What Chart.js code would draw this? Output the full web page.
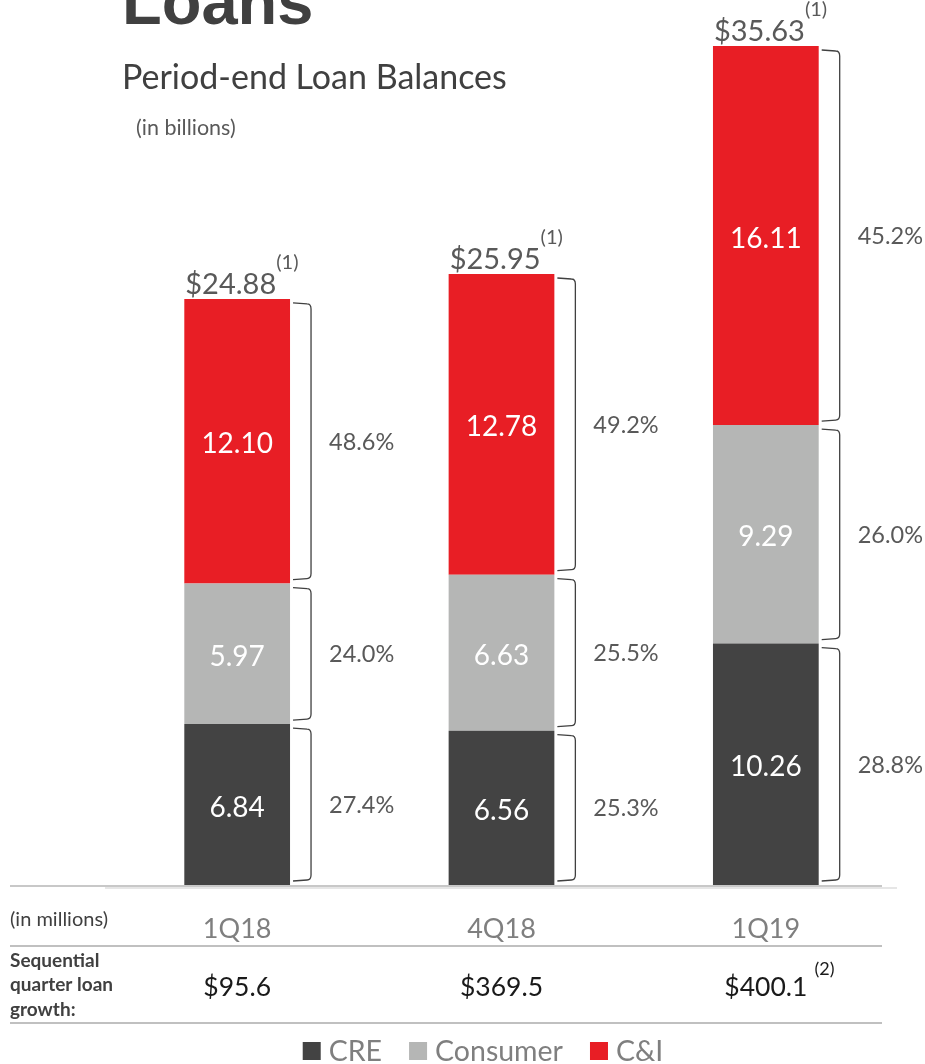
<!DOCTYPE html>
<html>
<head>
<meta charset="utf-8">
<script src="https://cdn.jsdelivr.net/npm/chart.js@4.4.1/dist/chart.umd.min.js"></script>
<style>
  html, body { margin: 0; padding: 0; background: #fff; }
  #wrap { position: relative; width: 925px; height: 1064px; }
</style>
</head>
<body>
<div id="wrap"><canvas id="loans" width="925" height="1064"></canvas></div>
<script>
// data
const categories = ["1Q18", "4Q18", "1Q19"];
const creValues = [6.84, 6.56, 10.26];
const consumerValues = [5.97, 6.63, 9.29];
const ciValues = [12.10, 12.78, 16.11];
const totalLabels = ["$24.88", "$25.95", "$35.63"];
const totalNotes = ["(1)", "(1)", "(1)"];
const creShare = ["27.4%", "25.3%", "28.8%"];
const consumerShare = ["24.0%", "25.5%", "26.0%"];
const ciShare = ["48.6%", "49.2%", "45.2%"];
const growthLabels = ["$95.6", "$369.5", "$400.1"];
const growthNotes = ["", "", "(2)"];

const FONT = "Lato, 'Open Sans', sans-serif";
const colors = { cre: "#434343", consumer: "#b5b6b5", ci: "#e81e25" };

// brackets, labels, table and legend
const decorations = {
  id: "decorations",
  afterDraw(chart) {
    const ctx = chart.ctx;
    const x = chart.scales.x, y = chart.scales.y;
    const shares = [creShare, consumerShare, ciShare];
    ctx.save();

    // headings
    ctx.textBaseline = "alphabetic";
    ctx.fillStyle = "#404040";
    ctx.font = "bold 65px 'Liberation Sans', Arial, sans-serif";
    ctx.fillText("Loans", 122, 24);
    ctx.fillStyle = "#404040";
    ctx.font = "34px " + FONT;
    ctx.fillText("Period-end Loan Balances", 122, 89);
    ctx.fillStyle = "#595959";
    ctx.font = "21.5px " + FONT;
    ctx.fillText("(in billions)", 136, 135);

    chart.data.datasets.forEach((ds, di) => {
      const meta = chart.getDatasetMeta(di);
      meta.data.forEach((bar, i) => {
        const top = bar.y, bottom = bar.base;
        const right = bar.x + bar.width / 2;
        // value inside bar
        ctx.fillStyle = "#ffffff";
        ctx.font = "28px " + FONT;
        ctx.textAlign = "center";
        ctx.textBaseline = "middle";
        ctx.fillText(ds.data[i].toFixed(2), bar.x, (top + bottom) / 2 + 3);
        // bracket
        const bx = right + 21;
        const t = top + 4, b = bottom - 4;
        ctx.strokeStyle = "#404040";
        ctx.lineWidth = 1.3;
        ctx.beginPath();
        ctx.moveTo(right + 3, t);
        ctx.lineTo(bx - 4, t + 1);
        ctx.quadraticCurveTo(bx, t + 1, bx, t + 6);
        ctx.lineTo(bx, b - 6);
        ctx.quadraticCurveTo(bx, b - 1, bx - 4, b - 1);
        ctx.lineTo(right + 3, b);
        ctx.stroke();
        // share label
        ctx.fillStyle = "#595959";
        ctx.font = "23.5px " + FONT;
        ctx.textAlign = "left";
        ctx.fillText(shares[di][i], right + 39, (top + bottom) / 2 + 1);
      });
    });

    // totals
    const lastMeta = chart.getDatasetMeta(2);
    lastMeta.data.forEach((bar, i) => {
      const left = bar.x - bar.width / 2;
      ctx.fillStyle = "#595959";
      ctx.textAlign = "left";
      ctx.textBaseline = "alphabetic";
      ctx.font = "29px " + FONT;
      ctx.fillText(totalLabels[i], left + 1, bar.y - 5);
      const w = ctx.measureText(totalLabels[i]).width;
      ctx.font = "20px " + FONT;
      ctx.fillText(totalNotes[i], left + w + 1, bar.y - 30);
    });

    // axis line
    const base = y.getPixelForValue(0);
    ctx.fillStyle = "#c8c8c8";
    ctx.fillRect(10, base, 872, 2);
    ctx.fillStyle = "#e6e6e6";
    ctx.fillRect(105, base + 2, 792, 2);

    // table
    ctx.fillStyle = "#c0c0c0";
    ctx.fillRect(10, 945, 872, 2);
    ctx.fillRect(10, 1022, 872, 2);
    ctx.textBaseline = "middle";
    ctx.textAlign = "left";
    ctx.fillStyle = "#404040";
    ctx.font = "20px " + FONT;
    ctx.fillText("(in millions)", 10, 920);
    ctx.font = "bold 19px " + FONT;
    ctx.fillText("Sequential", 10, 961);
    ctx.fillText("quarter loan", 10, 985);
    ctx.fillText("growth:", 10, 1010);

    categories.forEach((c, i) => {
      const cx = x.getPixelForValue(i);
      ctx.textAlign = "center";
      ctx.fillStyle = "#7f7f7f";
      ctx.font = "27px " + FONT;
      ctx.fillText(c, cx, 929);
      ctx.fillStyle = "#1a1a1a";
      ctx.font = "26.5px " + FONT;
      ctx.fillText(growthLabels[i], cx, 987);
      if (growthNotes[i]) {
        const w = ctx.measureText(growthLabels[i]).width;
        ctx.textAlign = "left";
        ctx.font = "18px " + FONT;
        ctx.fillText(growthNotes[i], cx + w / 2 + 7, 969);
      }
    });

    // legend
    const items = [["CRE", colors.cre], ["Consumer", colors.consumer], ["C&I", colors.ci]];
    ctx.font = "28.5px " + FONT;
    const gap = 27, sq = 18;
    let total = 0;
    items.forEach(it => { total += sq + 8 + ctx.measureText(it[0]).width; });
    total += gap * (items.length - 1);
    let lx = 483 - total / 2;
    items.forEach(it => {
      ctx.fillStyle = it[1];
      ctx.fillRect(lx, 1042, sq, sq);
      lx += sq + 8;
      ctx.fillStyle = "#7f7f7f";
      ctx.textAlign = "left";
      ctx.fillText(it[0], lx, 1052);
      lx += ctx.measureText(it[0]).width + gap;
    });
    ctx.restore();
  }
};

new Chart(document.getElementById("loans"), {
  type: "bar",
  data: {
    labels: categories,
    datasets: [
      { label: "CRE", data: creValues, backgroundColor: colors.cre },
      { label: "Consumer", data: consumerValues, backgroundColor: colors.consumer },
      { label: "C&I", data: ciValues, backgroundColor: colors.ci }
    ]
  },
  options: {
    responsive: false,
    animation: false,
    layout: { padding: { top: 38, bottom: 179, left: 105, right: 27 } },
    datasets: { bar: { barPercentage: 1, categoryPercentage: 0.4 } },
    scales: {
      x: { stacked: true, display: false },
      y: { stacked: true, display: false, min: 0, max: 36 }
    },
    plugins: { legend: { display: false }, tooltip: { enabled: false } }
  },
  plugins: [decorations]
});
</script>
</body>
</html>
